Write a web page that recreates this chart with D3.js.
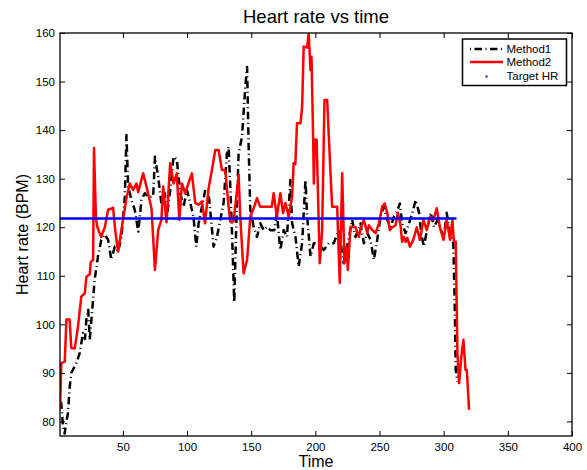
<!DOCTYPE html>
<html>
<head>
<meta charset="utf-8">
<script src="https://cdn.jsdelivr.net/npm/d3@7"></script>
<style>
  body { margin: 0; background: #fff; }
  svg { display: block; font-family: "Liberation Sans", Arial, Helvetica, sans-serif; }
</style>
</head>
<body>
<svg id="chart" width="587" height="470"></svg>
<script>
// ---- data ----
const time1 = [1,2,3.3,4.6,6,7.2,8.6,9.8,13.7,16.4,18.9,20.5,21.5,23,24.2,25.5,28,30.6,33.2,35.9,38.5,41,43.7,46.3,48.9,51.5,52.8,54.1,56.7,59.3,62,64.5,67.1,69.7,73.6,75,77.5,80,82.7,84.3,86.9,89.5,92,94.7,97.3,99.9,102.5,105,107.2,109,111.6,114.2,116.8,120.7,123.3,125.9,128.5,131.1,132.4,133.7,135,136.8,138.4,140.2,142.8,145.4,146.8,148,149.3,151.9,154.5,157.1,159.7,162.4,165,168,170,172.7,175.3,177.9,180.5,181.9,184.5,187,189.7,192.3,193.6,196.2,198.8,202.7,206.5,210.5,214.3,218.2,222.1,225.3,228.7,231.3,235.2,237.8,240.4,243,245.6,248.2,250.8,253.4,256,258.6,261.2,264,265.9,267.6,270.3,273,275.6,278.2,280.8,282.5,284.5,287,289.9,292.5,295.1,297.8,300.3,302.3,304.2,306,307.5,308.6,309.4,310.7];
const method1 = [84,83.8,79,77.5,80,81.7,87.2,90,92,94.1,98.2,97,101,103,96.8,101,109.2,114,117.4,118.5,117.4,113.3,116,115,118,126.3,139,128.4,125.6,123.5,119.1,125.6,127,126.3,126.3,134.5,130.4,124.9,127,122.2,127.7,134.5,134,127,124.2,127.7,125,122.2,116,120.8,124.2,127.7,127,116,118,121.5,125,135.2,136.6,128.4,119.4,104.5,120.8,135.2,138.6,148.9,153,136.6,123.6,120.1,118,120.8,119.4,120.1,119.4,119.4,122.9,115.3,119.4,118,129.7,120.8,118,111.9,116.7,129.7,122.2,114,116.7,116.7,115.3,116.7,116.7,119.4,112.6,116.7,121.5,118,120.8,116.7,118.8,117.4,113.3,117.4,122.2,124.2,121.5,120,122.2,123.5,124.9,120.8,118.8,120.8,123,125.6,123,118.8,116,119.4,123,120,121.5,119.4,118,123,120,118,116.7,104.4,90.6,88.2];

const time2 = [1,2,4.7,6,8.5,9.8,12.5,15,17.6,20.3,21.6,24.2,25,26.8,27.5,29,30,33,35.9,38.5,42.4,44,46.3,48.9,52.8,55.4,58,60.6,61.9,65.8,68.4,72.3,75,77.5,80,81.4,84,86.9,89.5,92,94,96,98.6,101,103.8,106.4,109,111.6,114,116.8,119.4,122,124.6,127.2,129.8,132.4,133.7,136.3,138.4,140.2,141.5,144.1,146.8,149.3,151.9,154.5,157.1,166,167.5,170,172.7,174.8,176.6,179.2,181.9,183.1,184.4,185.7,188.4,189.7,190.9,193.6,194.8,196.2,197,198.3,198.8,199.6,201,203.4,205.3,207.1,209.2,211.8,213.1,217,219,220.9,222.7,224.3,225.3,227.4,231.3,233.9,235.5,237.8,240.4,241.7,244.3,247,249.5,252.1,254,256,258,260,262.5,264.3,266.4,267.6,269,270.3,271.6,273.7,276.3,279,281.5,284.2,286.8,289.4,292,294.6,297.2,299.9,302.3,305,306.8,308,309.4,310.7,312,313.8,315.4,317,318,319.8];
const method2 = [82.4,92,92.3,101,101,95.1,95,99.5,105.7,106.4,109.8,110.3,112.9,113.2,136.3,122,120.1,118,120,123.6,124,119.4,115,119.5,126,129,127.7,129,127.2,131.1,128.4,123.9,111.2,119.4,121.5,128.4,121,133.2,129,131.1,121.5,129,127,129,131.1,125,124.6,125.3,120.8,128,131.8,135.9,135.9,131.8,131.8,124.2,121.2,121.2,126.3,130.8,122,110.5,113.3,122.2,123.9,126,124.2,124.2,127,122.2,127,122.9,125,122.2,126.3,133.2,133,141.4,141.4,144.8,157.2,157,160,152.4,155.1,138,129,138,138,112.6,119.4,146.2,146.2,131.1,124.2,124.2,108.5,131.1,112.6,116,111.2,120.1,120,118,120,121.5,118.8,120.4,119.4,118.8,120.8,124.2,124.9,123,119.4,120,120.4,123,120.4,117,118,117,117.8,116,117.4,120,117.4,121.5,119.4,122.2,121.5,123.9,119.8,117.4,121.5,117.4,121.5,117,117,94.1,87.9,93.4,96.8,90.6,90.6,82.4];

const targetTime = [1, 310];
const targetHR = [121.8, 121.8];

const xTicks = [50,100,150,200,250,300,350,400];
const yTicks = [80,90,100,110,120,130,140,150,160];
const seriesNames = ["Method1","Method2","Target HR"];

// ---- layout ----
const svg = d3.select("#chart");
const L = 60, R = 572, T = 33, B = 436;
const x = d3.scaleLinear().domain([1, 400]).range([L, R]);
const y = d3.scaleLinear().domain([77, 160]).range([B, T]);

svg.append("defs").append("clipPath").attr("id","clip")
  .append("rect").attr("x",L).attr("y",T).attr("width",R-L).attr("height",B-T);

const line = d3.line().x(d => x(d[0])).y(d => y(d[1]));
const g = svg.append("g").attr("clip-path","url(#clip)");

const d1 = time1.map((t,i) => [t, method1[i]]);
const d2 = time2.map((t,i) => [t, method2[i]]);
const d3t = targetTime.map((t,i) => [t, targetHR[i]]);

g.append("path").datum(d1).attr("d", line)
  .attr("fill","none").attr("stroke","#000").attr("stroke-width",2.5)
  .attr("stroke-dasharray","7.5,3.5,1,3.5").attr("stroke-linejoin","round");
g.append("path").datum(d2).attr("d", line)
  .attr("fill","none").attr("stroke","#ff0000").attr("stroke-width",2.5)
  .attr("stroke-linejoin","round");
g.append("path").datum(d3t).attr("d", line)
  .attr("fill","none").attr("stroke","#0000ff").attr("stroke-width",2.5);

// ---- axes ----
function styleAxis(sel) {
  sel.select(".domain").remove();
  sel.selectAll(".tick line").attr("stroke","#000").attr("stroke-width",1);
  sel.selectAll(".tick text").attr("fill","#000").style("font-size","11.5px")
     .style("font-family","'Liberation Sans', Arial, sans-serif");
}
svg.append("g").attr("transform",`translate(0,${B})`)
  .call(d3.axisBottom(x).tickValues(xTicks).tickSizeInner(-5).tickSizeOuter(0).tickPadding(7))
  .call(styleAxis);
svg.append("g").attr("transform",`translate(0,${T})`)
  .call(d3.axisTop(x).tickValues(xTicks).tickSizeInner(-5).tickSizeOuter(0).tickFormat(""))
  .call(styleAxis);
svg.append("g").attr("transform",`translate(${L},0)`)
  .call(d3.axisLeft(y).tickValues(yTicks).tickSizeInner(-5).tickSizeOuter(0).tickPadding(5))
  .call(styleAxis);
svg.append("g").attr("transform",`translate(${R},0)`)
  .call(d3.axisRight(y).tickValues(yTicks).tickSizeInner(-5).tickSizeOuter(0).tickFormat(""))
  .call(styleAxis);

svg.append("rect").attr("x",L).attr("y",T).attr("width",R-L).attr("height",B-T)
  .attr("fill","none").attr("stroke","#000").attr("stroke-width",1.3);

// ---- titles ----
svg.append("text").attr("x",(L+R)/2).attr("y",22.5).attr("text-anchor","middle")
  .style("font-size","18.5px").text("Heart rate vs time");
svg.append("text").attr("x",(L+R)/2).attr("y",467).attr("text-anchor","middle")
  .style("font-size","16px").text("Time");
svg.append("text").attr("transform",`translate(28,${(T+B)/2}) rotate(-90)`)
  .attr("text-anchor","middle").style("font-size","16px").text("Heart rate (BPM)");

// ---- legend ----
const lg = svg.append("g");
lg.append("rect").attr("x",462.5).attr("y",39).attr("width",104).attr("height",46.5)
  .attr("fill","#fff").attr("stroke","#000").attr("stroke-width",1.5);
const rowsY = [49, 62, 76.5];
lg.append("line").attr("x1",470).attr("x2",503).attr("y1",rowsY[0]).attr("y2",rowsY[0])
  .attr("stroke","#000").attr("stroke-width",2.5).attr("stroke-dasharray","1,3.5,7.5,3.5");
lg.append("line").attr("x1",470).attr("x2",503).attr("y1",rowsY[1]).attr("y2",rowsY[1])
  .attr("stroke","#ff0000").attr("stroke-width",2.5);
lg.append("rect").attr("x",485.5).attr("y",rowsY[2]-1).attr("width",2).attr("height",2)
  .attr("fill","#0000ff");
seriesNames.forEach((n,i) => {
  lg.append("text").attr("x",506.5).attr("y",rowsY[i]+3.8)
    .style("font-size","11.5px").text(n);
});
</script>
</body>
</html>
